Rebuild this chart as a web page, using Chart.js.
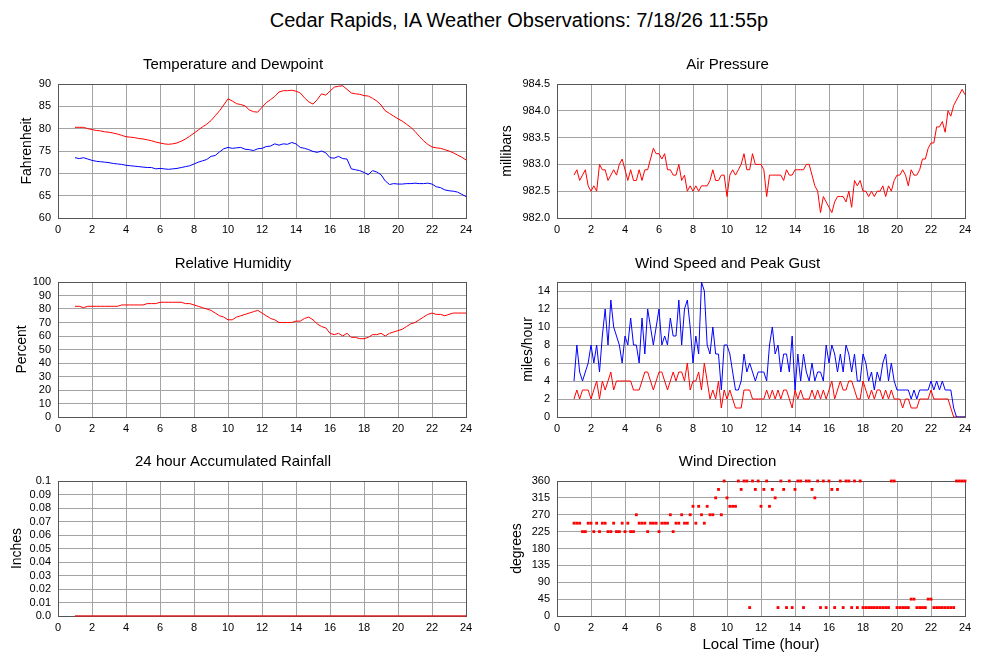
<!DOCTYPE html>
<html>
<head>
<meta charset="utf-8">
<script src="https://cdn.jsdelivr.net/npm/chart.js@4.4.1/dist/chart.umd.min.js"></script>
<style>
  body { margin: 0; background: #fff; width: 1000px; height: 660px; overflow: hidden; position: relative; }
  #main-title { position: absolute; left: 0; top: 8px; width: 1038px; text-align: center;
    font: 20px "Liberation Sans", Arial, sans-serif; line-height: 24px; color: #000; }
  canvas { position: absolute; }
</style>
</head>
<body>
<div id="main-title">Cedar Rapids, IA Weather Observations: 7/18/26 11:55p</div>
<canvas id="temp-chart"></canvas>
<canvas id="press-chart"></canvas>
<canvas id="rh-chart"></canvas>
<canvas id="wind-chart"></canvas>
<canvas id="rain-chart"></canvas>
<canvas id="dir-chart"></canvas>
<script>
// minutes after midnight, every 15 min (temperature, dewpoint, humidity)
const time_15 = [
  60, 75, 90, 105, 120, 135, 150, 165, 180, 195, 210, 225,
  240, 255, 270, 285, 300, 315, 330, 345, 360, 375, 390, 405,
  420, 435, 450, 465, 480, 495, 510, 525, 540, 555, 570, 585,
  600, 615, 630, 645, 660, 675, 690, 705, 720, 735, 750, 765,
  780, 795, 810, 825, 840, 855, 870, 885, 900, 915, 930, 945,
  960, 975, 990, 1005, 1020, 1035, 1050, 1065, 1080, 1095, 1110, 1125,
  1140, 1155, 1170, 1185, 1200, 1215, 1230, 1245, 1260, 1275, 1290, 1305,
  1320, 1335, 1350, 1365, 1380, 1395, 1410, 1425, 1440
];

const temperature = [
  80.3, 80.3, 80.3, 80.0,  79.8, 79.6, 79.5, 79.3,  79.2, 79.0, 78.8, 78.5,
  78.2, 78.1, 78.0, 77.8,  77.7, 77.5, 77.3, 77.0,  76.8, 76.6, 76.5, 76.6,
  76.8, 77.2, 77.7, 78.3,  79.0, 79.7, 80.4, 81.0,  81.8, 82.9, 84.0, 85.3,
  86.7, 86.2, 85.6, 85.4,  85.1, 84.2, 83.8, 83.7,  84.8, 85.8, 86.5, 87.2,
  88.2, 88.5, 88.5, 88.6,  88.4, 88.0, 86.9, 86.0,  85.5, 86.5, 87.8, 87.5,
  88.4, 89.3, 89.5, 89.6,  88.8, 88.0, 87.8, 87.7,  87.4, 87.3, 86.8, 86.2,
  85.3, 84.0, 83.4, 82.8,  82.2, 81.7, 81.0, 80.3,  79.4, 78.3, 77.3, 76.5,
  75.9, 75.7, 75.6, 75.3,  75.0, 74.6, 74.1, 73.6,  73.0
];

const dewpoint = [
  73.5, 73.3, 73.5, 73.2,  72.9, 72.7, 72.6, 72.5,  72.4, 72.2, 72.1, 72.0,
  71.8, 71.7, 71.6, 71.5,  71.4, 71.3, 71.3, 71.0,  71.1, 71.0, 70.9, 71.0,
  71.1, 71.3, 71.5, 71.7,  72.1, 72.5, 72.8, 73.1,  73.8, 74.0, 74.8, 75.5,
  75.8, 75.6, 75.7, 75.8,  75.4, 75.3, 75.1, 75.5,  75.6, 76.0, 76.1, 76.6,
  76.3, 76.6, 76.5, 76.9,  76.6, 75.8, 75.6, 75.3,  74.9, 74.7, 75.0, 74.6,
  73.5, 73.4, 73.8, 73.3,  73.2, 71.0, 70.8, 70.6,  70.2, 69.7, 70.6, 70.3,
  69.7, 68.3, 67.5, 67.7,  67.6, 67.6, 67.7, 67.7,  67.8, 67.7, 67.7, 67.8,
  67.6, 67.0, 66.8, 66.3,  66.1, 66.0, 65.8, 65.3,  64.8
];

const humidity = [
  82, 82, 81, 82,  82, 82, 82, 82,  82, 82, 82, 83,
  83, 83, 83, 83,  83, 84, 84, 84,  85, 85, 85, 85,
  85, 85, 84, 84,  83, 82, 81, 80,  79, 77, 75, 74,
  72, 72, 74, 75,  76, 77, 78, 79,  77, 75, 73, 72,
  70, 70, 70, 70,  71, 71, 73, 74,  72, 69, 67, 66,
  62, 61, 62, 60,  62, 59, 59, 58,  58, 59, 61, 61,
  62, 60, 62, 63,  64, 65, 67, 69,  70, 72, 74, 76,
  77, 76, 76, 75,  76, 77, 77, 77,  77
];

// minutes after midnight, every 10 min (pressure, wind)
const time_10 = [
  60, 70, 80, 90, 100, 110,
  120, 130, 140, 150, 160, 170,
  180, 190, 200, 210, 220, 230,
  240, 250, 260, 270, 280, 290,
  300, 310, 320, 330, 340, 350,
  360, 370, 380, 390, 400, 410,
  420, 430, 440, 450, 460, 470,
  480, 490, 500, 510, 520, 530,
  540, 550, 560, 570, 580, 590,
  600, 610, 620, 630, 640, 650,
  660, 670, 680, 690, 700, 710,
  720, 730, 740, 750, 760, 770,
  780, 790, 800, 810, 820, 830,
  840, 850, 860, 870, 880, 890,
  900, 910, 920, 930, 940, 950,
  960, 970, 980, 990, 1000, 1010,
  1020, 1030, 1040, 1050, 1060, 1070,
  1080, 1090, 1100, 1110, 1120, 1130,
  1140, 1150, 1160, 1170, 1180, 1190,
  1200, 1210, 1220, 1230, 1240, 1250,
  1260, 1270, 1280, 1290, 1300, 1310,
  1320, 1330, 1340, 1350, 1360, 1370,
  1380, 1390, 1400, 1410, 1420, 1430,
  1440
];

const pressure = [
  982.8, 982.9, 982.7, 982.8, 982.9, 982.6,
  982.5, 982.6, 982.5, 983.0, 982.9, 982.9,
  982.7, 982.8, 982.9, 982.8, 983.0, 983.1,
  982.9, 982.7, 982.9, 982.7, 982.7, 982.9,
  982.7, 982.9, 982.9, 983.1, 983.3, 983.2,
  983.2, 983.1, 983.2, 982.9, 982.9, 982.8,
  982.8, 983.0, 982.7, 982.8, 982.5, 982.6,
  982.5, 982.6, 982.5, 982.6, 982.6, 982.6,
  982.7, 982.9, 982.7, 982.7, 982.8, 982.8,
  982.4, 982.8, 982.9, 982.8, 982.9, 983.0,
  983.2, 982.9, 982.9, 983.2, 983.0, 983.0,
  983.0, 982.9, 982.4, 982.8, 982.8, 982.8,
  982.8, 982.8, 982.7, 982.9, 982.8, 982.8,
  982.9, 982.9, 982.9, 982.9, 983.0, 983.0,
  982.8, 982.6, 982.5, 982.1, 982.4, 982.3,
  982.2, 982.1, 982.3, 982.4, 982.4, 982.4,
  982.3, 982.5, 982.2, 982.7, 982.6, 982.7,
  982.5, 982.5, 982.4, 982.5, 982.4, 982.5,
  982.5, 982.6, 982.4, 982.6, 982.5, 982.7,
  982.8, 982.8, 982.9, 982.8, 982.6, 982.9,
  982.8, 982.8, 982.9, 983.1, 983.1, 983.3,
  983.4, 983.4, 983.7, 983.7, 983.8, 983.6,
  984.0, 983.9, 984.1, 984.2, 984.3, 984.4,
  984.3
];

const wind_speed = [
  2, 3, 2, 3, 3, 3,
  2, 3, 4, 2, 4, 3,
  4, 5, 3, 4, 4, 4,
  4, 4, 4, 3, 3, 3,
  4, 5, 5, 4, 3, 4,
  5, 5, 4, 3, 4, 5,
  4, 5, 5, 4, 6, 3,
  4, 4, 5, 3, 6, 4,
  2, 3, 2, 4, 1, 3,
  2, 3, 2, 1, 1, 1,
  3, 3, 3, 2, 2, 2,
  2, 2, 3, 2, 3, 2,
  3, 2, 3, 3, 2, 1,
  3, 2, 3, 2, 2, 2,
  3, 2, 3, 2, 3, 2,
  3, 4, 2, 3, 4, 3,
  3, 4, 4, 3, 2, 2,
  4, 3, 2, 3, 2, 3,
  3, 2, 3, 2, 3, 2,
  2, 2, 1, 2, 2, 1,
  1, 1, 2, 2, 2, 2,
  3, 2, 2, 2, 2, 2,
  2, 1, 0, 0, 0, 0,
  0
];

const wind_gust = [
  4, 8, 5, 4, 5, 6,
  8, 6, 8, 5, 9, 12,
  8, 13, 10, 9, 8, 6,
  9, 8, 11, 8, 8, 6,
  11, 7, 12, 10, 8, 10,
  12, 8, 9, 8, 11, 9,
  9, 13, 8, 12, 13, 10,
  6, 9, 7, 15, 14, 8,
  7, 10, 7, 7, 3, 8,
  8, 7, 5, 3, 3, 4,
  7, 5, 6, 5, 4, 5,
  5, 5, 4, 8, 10, 7,
  8, 5, 7, 7, 5, 9,
  3, 7, 4, 7, 5, 4,
  6, 4, 5, 5, 4, 8,
  6, 8, 7, 5, 7, 5,
  8, 7, 5, 7, 4, 4,
  7, 6, 4, 5, 3, 5,
  4, 6, 7, 4, 6, 4,
  3, 3, 3, 3, 3, 2,
  3, 2, 3, 3, 3, 3,
  4, 3, 4, 3, 4, 3,
  3, 3, 1, 0, 0, 0,
  0
];

const wind_dir = [
  247.5, 247.5, 247.5, 225, 225, 247.5,
  247.5, 225, 247.5, 225, 247.5, 247.5,
  225, 225, 247.5, 225, 225, 247.5,
  225, 247.5, 225, 225, 270, 247.5,
  247.5, 247.5, 225, 247.5, 247.5, 247.5,
  225, 247.5, 247.5, 247.5, 270, 225,
  247.5, 247.5, 270, 247.5, 247.5, 270,
  292.5, 247.5, 292.5, 270, 247.5, 292.5,
  270, 270, 315, 337.5, 270, 360,
  315, 292.5, 292.5, 292.5, 360, 337.5,
  360, 360, 22.5, 360, 337.5, 360,
  292.5, 337.5, 360, 292.5, 337.5, 315,
  22.5, 360, 337.5, 22.5, 360, 22.5,
  337.5, 360, 360, 22.5, 360, 360,
  337.5, 315, 360, 22.5, 360, 22.5,
  360, 337.5, 22.5, 337.5, 360, 22.5,
  360, 360, 22.5, 360, 22.5, 360,
  22.5, 22.5, 22.5, 22.5, 22.5, 22.5,
  22.5, 22.5, 22.5, 22.5, 360, 360,
  22.5, 22.5, 22.5, 22.5, 22.5, 45,
  45, 22.5, 22.5, 22.5, 22.5, 45,
  45, 22.5, 22.5, 22.5, 22.5, 22.5,
  22.5, 22.5, 22.5, 360, 360, 360,
  360
];

// hourly, 24 hour accumulated rain
const time_60 = [60, 120, 180, 240, 300, 360, 420, 480, 540, 600, 660, 720,
  780, 840, 900, 960, 1020, 1080, 1140, 1200, 1260, 1320, 1380, 1440];
const rainfall = [0, 0, 0, 0, 0, 0, 0, 0, 0, 0, 0, 0,
  0, 0, 0, 0, 0, 0, 0, 0, 0, 0, 0, 0];

const FONT = '"Liberation Sans", Arial, sans-serif';
Chart.defaults.font.family = FONT;
Chart.defaults.color = '#000';
Chart.defaults.animation = false;

const GRID = '#a3a3a3';

// box round the plot area
const framePlugin = {
  id: 'frame',
  beforeDatasetsDraw(chart) {
    const a = chart.chartArea;
    const ctx = chart.ctx;
    ctx.save();
    ctx.strokeStyle = '#555';
    ctx.lineWidth = 1;
    ctx.strokeRect(a.left + 0.5, a.top + 0.5, a.right - a.left, a.bottom - a.top);
    ctx.restore();
  }
};

function pts(times, vals)
{
    return times.map((t, i) => ({x: t, y: vals[i]}));
}

function lineSet(times, vals, color)
{
    return {
        data: pts(times, vals),
        borderColor: color,
        backgroundColor: color,
        borderWidth: 1,
        pointRadius: 0,
        tension: 0
    };
}

// p: canvas placement, y: y-axis settings
function makePanel(id, p, title, datasets, y, xTitle)
{
    const cv = document.getElementById(id);
    cv.width = p.w;
    cv.height = p.h;
    cv.style.left = p.left + 'px';
    cv.style.top = p.top + 'px';

    const xScale = {
        type: 'linear',
        min: 0,
        max: 1440,
        border: {display: false},
        grid: {color: GRID, drawTicks: false},
        ticks: {stepSize: 120, padding: 5, font: {size: 11}, maxRotation: 0, autoSkip: false,
                callback: v => String(v / 60)},
        afterFit: s => { s.height = xTitle ? 42 : 24; }
    };
    if (xTitle)
        xScale.title = {display: true, text: xTitle, font: {size: 15}, padding: {top: 0, bottom: 4}};

    return new Chart(cv.getContext('2d'), {
        type: 'line',
        data: {datasets: datasets},
        options: {
            responsive: false,
            animation: false,
            layout: {padding: {left: 0, right: p.right, top: 0, bottom: 0}},
            plugins: {
                legend: {display: false},
                tooltip: {enabled: false},
                title: {display: true, text: title, font: {size: 15, weight: 'normal'},
                        color: '#000', padding: {top: p.tTop, bottom: p.tBot}}
            },
            scales: {
                x: xScale,
                y: {
                    min: y.min,
                    max: y.max,
                    border: {display: false},
                    grid: {color: GRID, drawTicks: false},
                    ticks: {stepSize: y.step, padding: 7, font: {size: 11}, includeBounds: false,
                            autoSkip: false, callback: y.fmt},
                    title: {display: true, text: y.label, font: {size: 14},
                            padding: {top: y.tpad, bottom: 0}},
                    afterFit: s => { s.width = p.axisW; }
                }
            }
        },
        plugins: [framePlugin]
    });
}

const RED = '#ff0000';
const BLUE = '#0000ff';

makePanel('temp-chart',
    {left: 0, top: 50, w: 480, h: 192, right: 14, axisW: 58, tTop: 6, tBot: 10},
    'Temperature and Dewpoint',
    [lineSet(time_15, temperature, RED), lineSet(time_15, dewpoint, BLUE)],
    {min: 60, max: 90, step: 5, label: 'Fahrenheit', tpad: 18.6, fmt: v => String(v)});

makePanel('press-chart',
    {left: 490, top: 50, w: 490, h: 192, right: 15, axisW: 67, tTop: 6, tBot: 10},
    'Air Pressure',
    [lineSet(time_10, pressure, RED)],
    {min: 982, max: 984.5, step: 0.5, label: 'millibars', tpad: 8.6, fmt: v => v.toFixed(1)});

makePanel('rh-chart',
    {left: 0, top: 248, w: 480, h: 193, right: 14, axisW: 58, tTop: 7, tBot: 9},
    'Relative Humidity',
    [lineSet(time_15, humidity, RED)],
    {min: 0, max: 100, step: 10, label: 'Percent', tpad: 13.6, fmt: v => String(v)});

makePanel('wind-chart',
    {left: 490, top: 248, w: 490, h: 193, right: 15, axisW: 67, tTop: 7, tBot: 9},
    'Wind Speed and Peak Gust',
    [lineSet(time_10, wind_gust, BLUE), lineSet(time_10, wind_speed, RED)],
    {min: 0, max: 15, step: 2, label: 'miles/hour', tpad: 29.6, fmt: v => String(v)});

const rainSet = lineSet(time_60, rainfall, '#e02020');
rainSet.clip = 3;
rainSet.borderWidth = 1.5;

makePanel('rain-chart',
    {left: 0, top: 446, w: 480, h: 194, right: 14, axisW: 58, tTop: 7, tBot: 10},
    '24 hour Accumulated Rainfall',
    [rainSet],
    {min: 0, max: 0.1, step: 0.01, label: 'Inches', tpad: 8.6,
     fmt: v => v === 0 ? '0.0' : (Math.abs(v - 0.1) < 1e-9 ? '0.1' : v.toFixed(2))});

const dirSet = {
    data: pts(time_10, wind_dir),
    showLine: false,
    clip: 4,
    pointStyle: 'rect',
    pointRadius: 2,
    borderWidth: 0,
    backgroundColor: RED,
    borderColor: RED
};

makePanel('dir-chart',
    {left: 490, top: 446, w: 490, h: 212, right: 15, axisW: 67, tTop: 7, tBot: 10},
    'Wind Direction',
    [dirSet],
    {min: 0, max: 360, step: 45, label: 'degrees', tpad: 18.6, fmt: v => String(v)},
    'Local Time (hour)');
</script>
</body>
</html>
